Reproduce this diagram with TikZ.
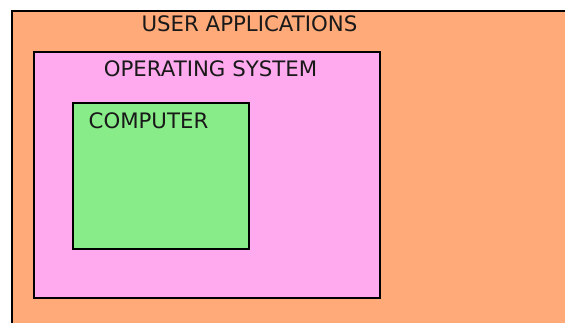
\documentclass[tikz,border=0pt]{standalone}
\usepackage{fontspec}
\setmainfont{DejaVu Sans}
\usetikzlibrary{positioning}
\definecolor{userorange}{HTML}{FFAA78}
\definecolor{ospink}{HTML}{FFAAEE}
\definecolor{hwgreen}{HTML}{88EC88}
\tikzset{
  layer/.style={draw=black, line width=2pt, anchor=north west, inner sep=0pt},
  layertitle/.style={font=\fontsize{21.3}{25}\selectfont, text=black!90}
}

\begin{document}
\begin{tikzpicture}[x=1pt, y=-1pt]
	% page frame
	\useasboundingbox (0,0) rectangle (565,322);
	\clip (0,0) rectangle (565,322);
	\fill[white] (0,0) rectangle (565,322);
	
	% draw layers
	\node[layer, fill=userorange, minimum width=620pt, minimum height=360pt] (user) at (11,10) {};
	\node[layer, fill=ospink, minimum width=346pt, minimum height=246pt] (os) at (33,51) {};
	\node[layer, fill=hwgreen, minimum width=176pt, minimum height=146pt] (hw) at (72,102) {};
	
	% draw titles
	\node[layertitle] (usertitle) at (249.5,24) {USER APPLICATIONS};
	\node[layertitle] (ostitle) at (210.5,69) {OPERATING SYSTEM};
	\node[layertitle] (hwtitle) at (148.5,121) {COMPUTER};
\end{tikzpicture}
\end{document}
